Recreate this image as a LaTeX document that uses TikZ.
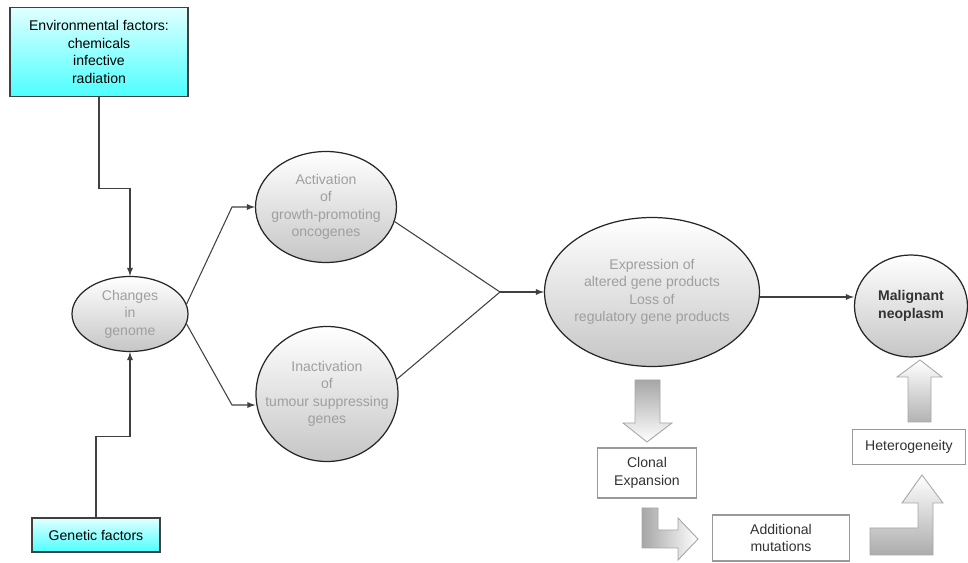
\documentclass[tikz,border=0pt]{standalone}
\usepackage{fontspec}
\setmainfont{Liberation Sans}
\usetikzlibrary{shapes.geometric,arrows}
\tikzset{
  lbl/.style={font=\fontsize{8}{10}\selectfont, align=center},
  factor/.style={lbl, draw=black!75, line width=0.9pt, top color=cyan!12, bottom color=cyan!70, inner sep=0pt},
  stage/.style={ellipse, draw=black!85, line width=0.7pt, top color=white, bottom color=gray!45, inner sep=0pt},
  stage text/.style={lbl, text=gray!75},
  step box/.style={lbl, draw=gray!80, line width=0.6pt, fill=white, text=black!80, inner sep=0pt},
  conn/.style={-latex, draw=black!75, line width=0.6pt},
  block/.style={draw=gray!70, line width=0.5pt}
}
\begin{document}
\begin{tikzpicture}[x=0.02cm, y=-0.02cm]
\useasboundingbox (0,0) rectangle (968,563);

% factors
\node[factor, minimum width=3.56cm, minimum height=1.78cm] (env) at (99,52) {Environmental factors:\\chemicals\\infective\\radiation};
\node[factor, minimum width=2.56cm, minimum height=0.68cm] (gen) at (96,535) {Genetic factors};

% ellipses (text as centre labels so the ellipse keeps its size)
\node[stage, minimum width=2.32cm, minimum height=1.5cm, label={[stage text]center:Changes\\in\\genome}] (chg) at (130,314) {};
\node[stage, minimum width=2.82cm, minimum height=2.22cm, label={[stage text]center:Activation\\of\\growth-promoting\\oncogenes}] (act) at (326,207) {};
\node[stage, minimum width=2.84cm, minimum height=2.7cm, label={[stage text]center:Inactivation\\of\\tumour suppressing\\genes}] (inact) at (327,394) {};
\node[stage, minimum width=4.3cm, minimum height=2.98cm, label={[stage text]center:Expression of\\altered gene products\\Loss of\\regulatory gene products}] (expr) at (652,292) {};
\node[stage, minimum width=2.26cm, minimum height=2.04cm, label={[stage text, text=black!80, font=\fontsize{8}{10}\selectfont\bfseries]center:Malignant\\neoplasm}] (mal) at (911,306) {};

% boxes
\node[step box, minimum width=1.98cm, minimum height=1.0cm] (clon) at (647,473) {Clonal\\Expansion};
\node[step box, minimum width=2.74cm, minimum height=0.92cm] (addm) at (781,538) {Additional\\mutations};
\node[step box, minimum width=2.26cm, minimum height=0.7cm] (het) at (909,447) {Heterogeneity};

% connectors
\coordinate (ka) at (232,207);
\coordinate (kb) at (232,405);
\coordinate (jn) at (500,292);
\draw[conn] (env.south) -- ++(0,91) -| (chg.north);
\draw[conn] (gen.north) -- ++(0,-81) -| (chg.south);
\draw[conn] (chg.10) -- (ka) -- (act.west);
\draw[conn] (chg.-10) -- (kb) -- (kb -| inact.west);
\draw[black!75, line width=0.6pt] (act.-12) -- (jn);
\draw[black!75, line width=0.6pt] (inact.12) -- (jn);
\draw[conn] (jn) -- (expr.west);
\draw[conn] ([yshift=-0.1cm]expr.east) -- ([yshift=-0.1cm]expr.east -| mal.west);

% block arrows
\shade[block, top color=gray!70, bottom color=white] (635,380) -- (660,380) -- (660,423) -- (672,423) -- (647,442) -- (623,423) -- (635,423) -- cycle;
\shade[block, left color=gray!70, right color=white] (642,508) -- (658,508) -- (658,530) -- (678,530) -- (678,518) -- (698,539) -- (678,560) -- (678,548) -- (642,548) -- cycle;
\shade[block, top color=white, bottom color=gray!65] (870,528) -- (918,528) -- (918,503) -- (902,503) -- (922,475) -- (943,503) -- (933,503) -- (933,555) -- (870,555) -- cycle;
\shade[block, top color=white, bottom color=gray!60] (908,422) -- (908,377) -- (897,377) -- (920,360) -- (942,377) -- (931,377) -- (931,422) -- cycle;
\end{tikzpicture}
\end{document}
